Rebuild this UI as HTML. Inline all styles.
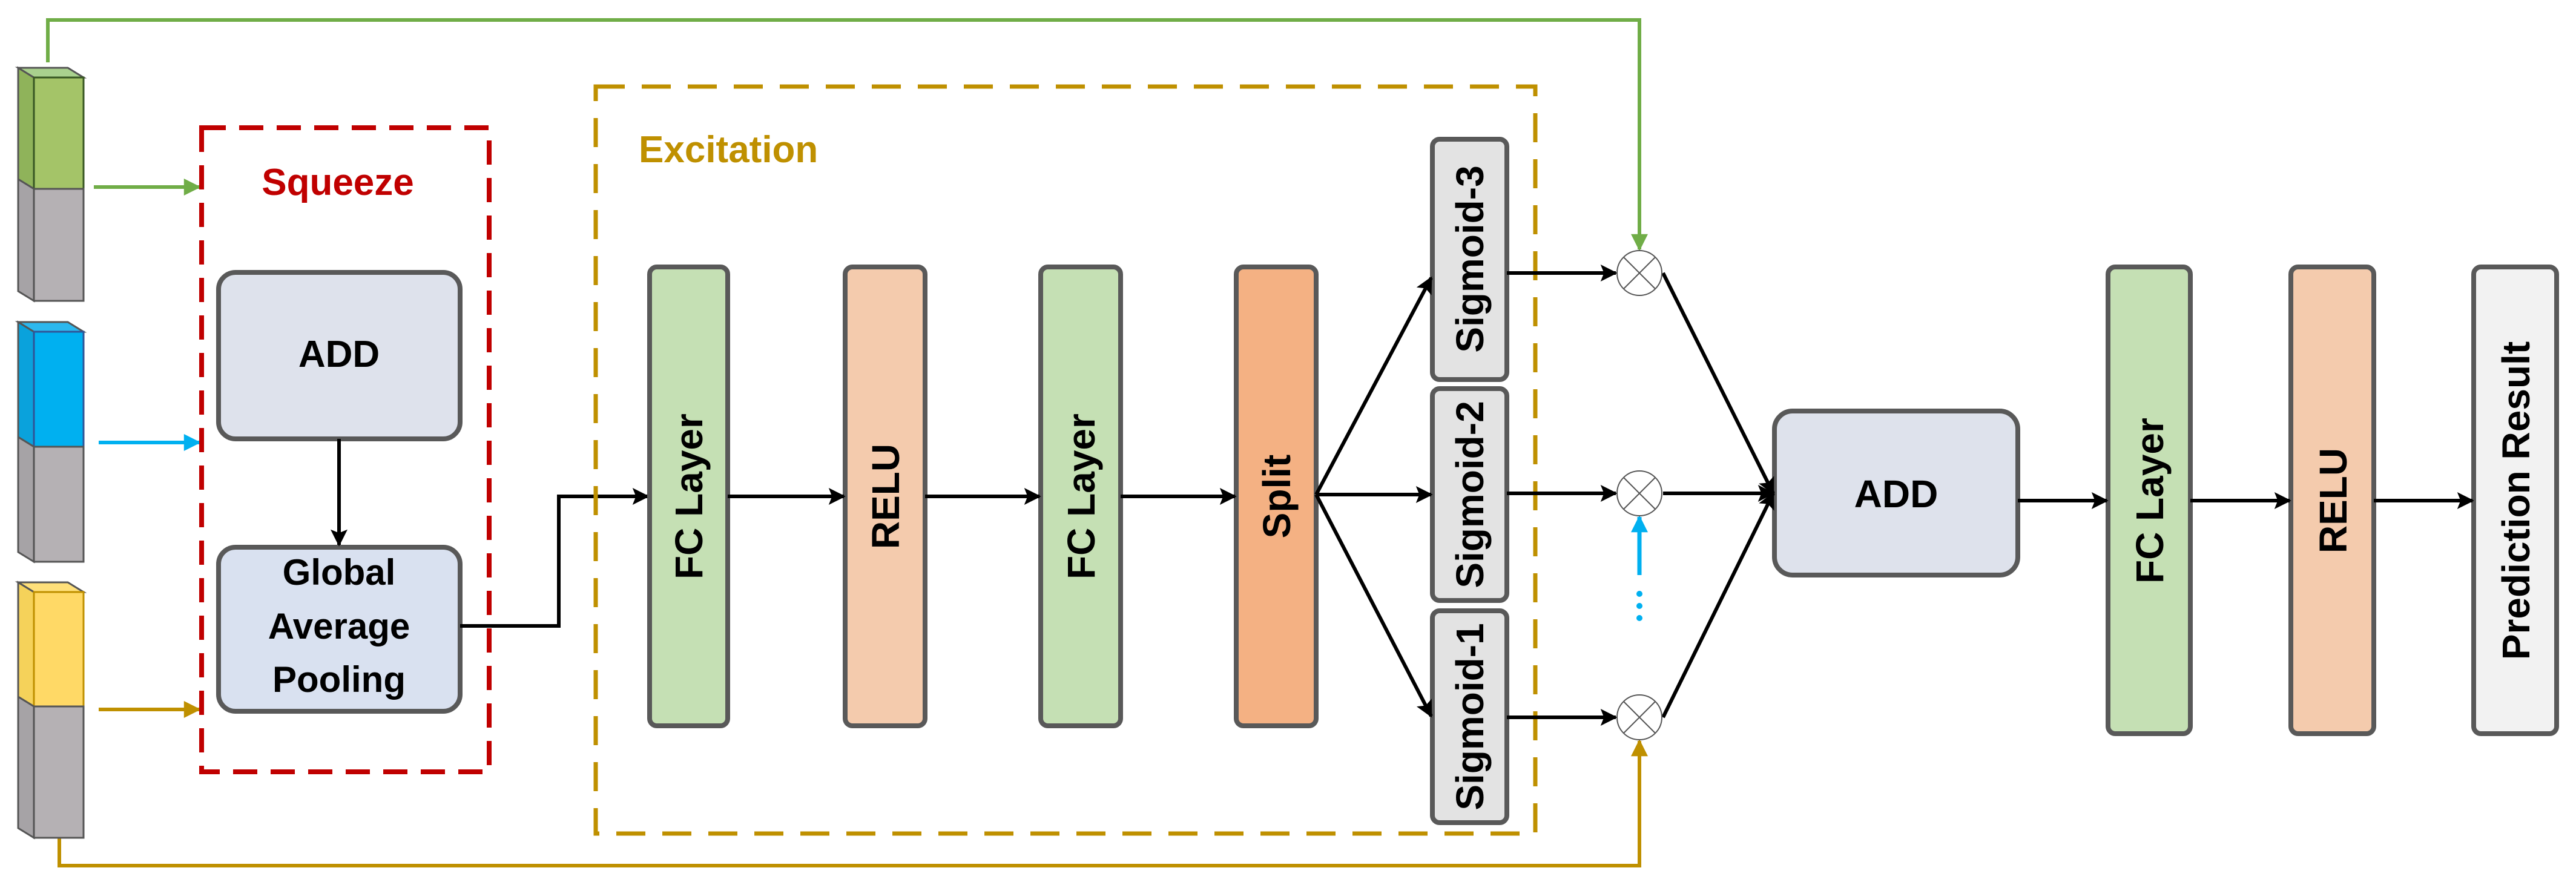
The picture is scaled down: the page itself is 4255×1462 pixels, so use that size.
<!DOCTYPE html>
<html><head><meta charset="utf-8"><style>
html,body{margin:0;padding:0;background:#fff;}
svg{display:block;}
text{font-family:"Liberation Sans",sans-serif;font-weight:bold;}
</style></head><body>
<svg width="4255" height="1462" viewBox="0 0 4255 1462" xmlns="http://www.w3.org/2000/svg">
<defs>
<marker id="ak" markerWidth="10" markerHeight="10" refX="9" refY="5" orient="auto" markerUnits="userSpaceOnUse" viewBox="0 0 10 10"><path d="M0,0 L10,5 L0,10 L3,5 z" fill="#000" transform="scale(1)"/></marker>
<marker id="a" viewBox="0 0 10 10" refX="9" refY="5" markerWidth="30" markerHeight="28" orient="auto" markerUnits="userSpaceOnUse"><path d="M0,0 L10,5 L0,10 L2,5 z" fill="#000"/></marker>
<marker id="ag" viewBox="0 0 10 10" refX="9" refY="5" markerWidth="30" markerHeight="28" orient="auto" markerUnits="userSpaceOnUse"><path d="M0,0 L10,5 L0,10 z" fill="#70ad47"/></marker>
<marker id="ab" viewBox="0 0 10 10" refX="9" refY="5" markerWidth="30" markerHeight="28" orient="auto" markerUnits="userSpaceOnUse"><path d="M0,0 L10,5 L0,10 z" fill="#00b0f0"/></marker>
<marker id="ay" viewBox="0 0 10 10" refX="9" refY="5" markerWidth="30" markerHeight="28" orient="auto" markerUnits="userSpaceOnUse"><path d="M0,0 L10,5 L0,10 z" fill="#bf9000"/></marker>
</defs>

<!-- feedback lines -->
<polyline points="79,103 79,33 2708,33 2708,412" fill="none" stroke="#70ad47" stroke-width="6" marker-end="url(#ag)"/>
<polyline points="98,1384 98,1430 2708,1430 2708,1224" fill="none" stroke="#bf9000" stroke-width="6" marker-end="url(#ay)"/>
<line x1="2708" y1="950" x2="2708" y2="854" stroke="#00b0f0" stroke-width="7" marker-end="url(#ab)"/>
<circle cx="2708" cy="981" r="5" fill="#00b0f0"/><circle cx="2708" cy="1001" r="5" fill="#00b0f0"/><circle cx="2708" cy="1021" r="5" fill="#00b0f0"/>

<!-- cubes -->
<g stroke="#555" stroke-width="3">
<polygon points="30,112 56,128 56,312 30,296" fill="#8fb35a"/>
<polygon points="30,112 56,128 138,128 112,112" fill="#a9d18e"/>
<rect x="56" y="128" width="82" height="184" fill="#a4c468" stroke="#385723"/>
<polygon points="30,296 56,312 56,497 30,481" fill="#a6a3a6"/>
<rect x="56" y="312" width="82" height="185" fill="#b5b1b4"/>

<polygon points="30,532 56,548 56,738 30,722" fill="#0aa2dc"/>
<polygon points="30,532 56,548 138,548 112,532" fill="#2cb8ee"/>
<rect x="56" y="548" width="82" height="190" fill="#00b0f0" stroke="#2f5597"/>
<polygon points="30,722 56,738 56,928 30,912" fill="#a6a3a6"/>
<rect x="56" y="738" width="82" height="190" fill="#b5b1b4"/>

<polygon points="30,962 56,978 56,1167 30,1151" fill="#f5d25a"/>
<polygon points="30,962 56,978 138,978 112,962" fill="#ffe07a"/>
<rect x="56" y="978" width="82" height="189" fill="#ffd966" stroke="#bf9000"/>
<polygon points="30,1151 56,1167 56,1384 30,1368" fill="#a6a3a6"/>
<rect x="56" y="1167" width="82" height="217" fill="#b5b1b4"/>
</g>

<line x1="155" y1="309" x2="329" y2="309" stroke="#70ad47" stroke-width="6" marker-end="url(#ag)"/>
<line x1="163" y1="731" x2="329" y2="731" stroke="#00b0f0" stroke-width="6" marker-end="url(#ab)"/>
<line x1="163" y1="1172" x2="329" y2="1172" stroke="#bf9000" stroke-width="6" marker-end="url(#ay)"/>

<!-- squeeze -->
<rect x="333" y="211" width="475" height="1064" fill="none" stroke="#c00000" stroke-width="8" stroke-dasharray="40,22"/>
<text x="558" y="322" font-size="62" fill="#c00000" text-anchor="middle">Squeeze</text>
<rect x="361" y="450" width="399" height="275" rx="28" fill="#dee2ec" stroke="#595959" stroke-width="8"/>
<text x="560" y="606" font-size="62" text-anchor="middle">ADD</text>
<rect x="361" y="904" width="399" height="271" rx="28" fill="#d9e1f0" stroke="#595959" stroke-width="8"/>
<text x="560" y="966" font-size="60" text-anchor="middle">Global</text>
<text x="560" y="1055" font-size="60" text-anchor="middle">Average</text>
<text x="560" y="1143" font-size="60" text-anchor="middle">Pooling</text>
<line x1="560" y1="725" x2="560" y2="900" stroke="#000" stroke-width="6" marker-end="url(#a)"/>
<polyline points="760,1034 923,1034 923,820 1070,820" fill="none" stroke="#000" stroke-width="6" marker-end="url(#a)"/>

<!-- excitation -->
<rect x="984" y="143" width="1552" height="1234" fill="none" stroke="#bf9000" stroke-width="7" stroke-dasharray="48,28"/>
<text x="1055" y="268" font-size="62" fill="#bf9000">Excitation</text>

<g stroke="#595959" stroke-width="8">
<rect x="1073" y="441" width="129" height="758" rx="12" fill="#c5e0b4"/>
<rect x="1396" y="441" width="132" height="758" rx="12" fill="#f4cbad"/>
<rect x="1719" y="441" width="132" height="758" rx="12" fill="#c5e0b4"/>
<rect x="2042" y="441" width="132" height="758" rx="12" fill="#f4b183"/>
<rect x="2366" y="230" width="123" height="397" rx="12" fill="#e3e3e3"/>
<rect x="2366" y="642" width="123" height="350" rx="12" fill="#e3e3e3"/>
<rect x="2366" y="1009" width="123" height="350" rx="12" fill="#e3e3e3"/>
<rect x="2931" y="679" width="402" height="271" rx="30" fill="#dee2ec"/>
<rect x="3482" y="441" width="136" height="771" rx="12" fill="#c5e0b4"/>
<rect x="3784" y="441" width="137" height="771" rx="12" fill="#f4cbad"/>
<rect x="4086" y="441" width="137" height="771" rx="12" fill="#f2f2f2"/>
</g>

<g font-size="64" text-anchor="middle">
<text transform="translate(1160,820) rotate(-90)">FC Layer</text>
<text transform="translate(1485,820) rotate(-90)">RELU</text>
<text transform="translate(1808,820) rotate(-90)">FC Layer</text>
<text transform="translate(2131,820) rotate(-90)">Split</text>
<text transform="translate(2450,428) rotate(-90)">Sigmoid-3</text>
<text transform="translate(2450,817) rotate(-90)">Sigmoid-2</text>
<text transform="translate(2450,1184) rotate(-90)">Sigmoid-1</text>
<text x="3132" y="838">ADD</text>
<text transform="translate(3573,827) rotate(-90)">FC Layer</text>
<text transform="translate(3876,827) rotate(-90)">RELU</text>
<text transform="translate(4178,827) rotate(-90)">Prediction Result</text>
</g>

<g stroke="#000" stroke-width="6" fill="none">
<line x1="1202" y1="820" x2="1394" y2="820" marker-end="url(#a)"/>
<line x1="1528" y1="820" x2="1717" y2="820" marker-end="url(#a)"/>
<line x1="1851" y1="820" x2="2040" y2="820" marker-end="url(#a)"/>
<line x1="2174" y1="817" x2="2364" y2="459" marker-end="url(#a)"/>
<line x1="2174" y1="817" x2="2364" y2="817" marker-end="url(#a)"/>
<line x1="2174" y1="817" x2="2364" y2="1183" marker-end="url(#a)"/>
<line x1="2489" y1="451" x2="2669" y2="451" marker-end="url(#a)"/>
<line x1="2489" y1="815" x2="2669" y2="815" marker-end="url(#a)"/>
<line x1="2489" y1="1185" x2="2669" y2="1185" marker-end="url(#a)"/>
<line x1="2747" y1="451" x2="2929" y2="815" marker-end="url(#a)"/>
<line x1="2747" y1="815" x2="2929" y2="815" marker-end="url(#a)"/>
<line x1="2747" y1="1185" x2="2929" y2="815" marker-end="url(#a)"/>
<line x1="3333" y1="827" x2="3480" y2="827" marker-end="url(#a)"/>
<line x1="3618" y1="827" x2="3782" y2="827" marker-end="url(#a)"/>
<line x1="3921" y1="827" x2="4084" y2="827" marker-end="url(#a)"/>
</g>

<g stroke="#555" stroke-width="2" fill="#fff">
<circle cx="2708" cy="451" r="37"/><circle cx="2708" cy="815" r="37"/><circle cx="2708" cy="1185" r="37"/>
</g>
<g stroke="#555" stroke-width="2">
<path d="M2682,425 L2734,477 M2734,425 L2682,477"/>
<path d="M2682,789 L2734,841 M2734,789 L2682,841"/>
<path d="M2682,1159 L2734,1211 M2734,1159 L2682,1211"/>
</g>
</svg>
</body></html>
